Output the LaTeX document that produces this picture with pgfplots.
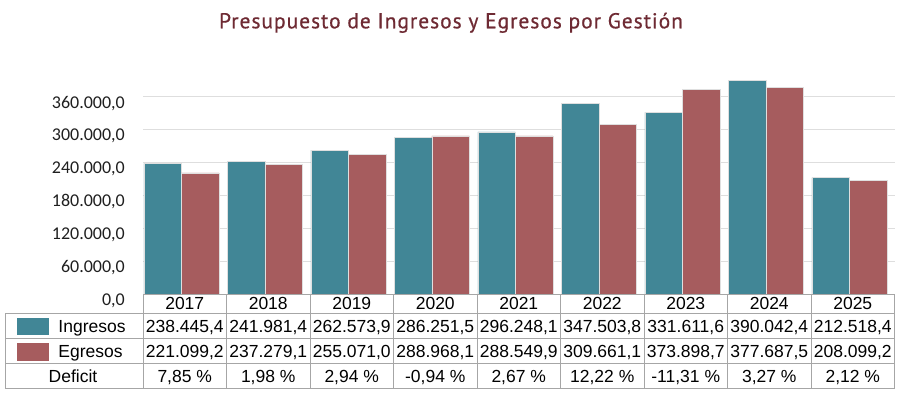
\documentclass[border=0pt]{standalone}
\usepackage{pgfplots}
\pgfplotsset{compat=1.18}
\usepackage{pgfplotstable}
\usepackage{fontspec}
\setmainfont{Liberation Sans}
\newfontfamily\calibri{Carlito}
\newfontfamily\titlefont[LetterSpace=4.5,FakeBold=0.6]{PT Sans}
\definecolor{ing}{HTML}{418696}
\definecolor{egr}{HTML}{A65C5E}
\definecolor{titlec}{HTML}{6E2A33}
\definecolor{tline}{HTML}{A6A6A6}

\pgfplotstableread{
x ing egr
0 238445.4 221099.2
1 241981.4 237279.1
2 262573.9 255071.0
3 286251.5 288968.1
4 296248.1 288549.9
5 347503.8 309661.1
6 331611.6 373898.7
7 390042.4 377687.5
8 212518.4 208099.2
}\datatable

\begin{document}
\begin{tikzpicture}[x=1pt,y=1pt]
\useasboundingbox (0,0) rectangle (904,394);
\begin{axis}[at={(143pt,100pt)}, anchor=south west, scale only axis,
  width=751.5pt, height=230pt,
  xmin=-0.5, xmax=8.5, ymin=0, ymax=420000,
  xtick=\empty, ytick={0,60000,120000,180000,240000,300000,360000},
  scaled y ticks=false,
  ymajorgrids, grid style={color=black!13, line width=0.8pt},
  axis line style={draw=none}, major tick length=0pt,
  yticklabel={\pgfmathprintnumber[fixed,fixed zerofill,precision=1,use comma,1000 sep={.},assume math mode=true]{\tick}},
  yticklabel style={font=\calibri\fontsize{18}{18}\selectfont, text=black!88, inner sep=0pt, xshift=-18pt, yshift=-6.5pt},
  clip=false]
\addplot[ybar, bar width=37.5pt, bar shift=-22.25pt, fill=ing, draw=white!75!gray, line width=0.5pt] table[x=x,y=ing]{\datatable};
\addplot[ybar, bar width=37.5pt, bar shift=15.25pt, fill=egr, draw=white!75!gray, line width=0.5pt] table[x=x,y=egr]{\datatable};
\end{axis}
% title
\node[anchor=base, text=titlec, font=\titlefont\fontsize{21.5}{22}\selectfont] at (451,365.7) {Presupuesto de Ingresos y Egresos por Gestión};
% data table
\begin{scope}[tline, line width=1pt]
\draw (143,100) -- (894.5,100);
\foreach \y in {80.7,55.3,30.7,5.7} \draw (5,\y) -- (894.5,\y);
\foreach \i in {0,...,9} \draw ({143+83.5*\i},100) -- ({143+83.5*\i},5.7);
\draw (5,80.7) -- (5,5.7);
\end{scope}
\fill[ing] (17,59) rectangle (49,76);
\fill[egr] (17,33) rectangle (49,51);
\begin{scope}[every node/.style={anchor=base, text=black, inner sep=0pt, font=\fontsize{17.5}{21}\selectfont}]
\node at (92,62) {Ingresos};
\node at (90.5,37) {Egresos};
\node at (73,12) {Deficit};
\foreach \t [count=\i from 0] in {2017,2018,2019,2020,2021,2022,2023,2024,2025}
  \node at ({184.75+83.5*\i},84.7) {\t};
\foreach \t [count=\i from 0] in {{238.445,4},{241.981,4},{262.573,9},{286.251,5},{296.248,1},{347.503,8},{331.611,6},{390.042,4},{212.518,4}}
  \node at ({184.75+83.5*\i},62) {\t};
\foreach \t [count=\i from 0] in {{221.099,2},{237.279,1},{255.071,0},{288.968,1},{288.549,9},{309.661,1},{373.898,7},{377.687,5},{208.099,2}}
  \node at ({184.75+83.5*\i},37) {\t};
\foreach \t [count=\i from 0] in {{7,85 \%},{1,98 \%},{2,94 \%},{-0,94 \%},{2,67 \%},{12,22 \%},{-11,31 \%},{3,27 \%},{2,12 \%}}
  \node at ({184.75+83.5*\i},12) {\t};
\end{scope}
\end{tikzpicture}
\end{document}
